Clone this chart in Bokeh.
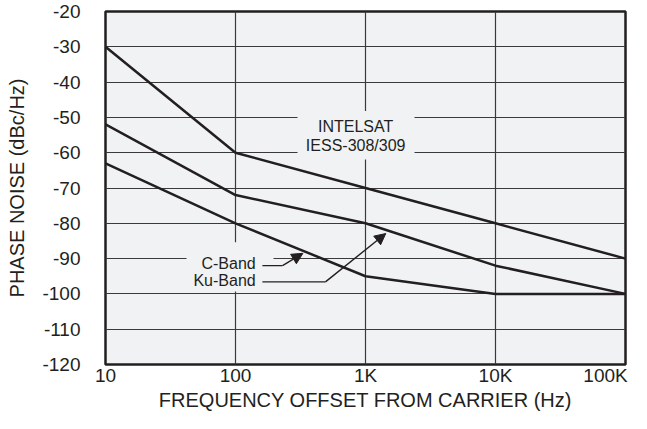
from bokeh.plotting import figure
from bokeh.models import Label, BoxAnnotation, Arrow, NormalHead, FixedTicker
from bokeh.embed import file_html
from bokeh.resources import INLINE

# ---- data ----
freq_hz = [10, 100, 1000, 10000, 100000]
intelsat = [-30, -60, -70, -80, -90]
ku_band = [-52, -72, -80, -92, -100]
c_band = [-63, -80, -95, -100, -100]

x_tick_values = [10, 100, 1000, 10000, 100000]
x_tick_labels = ["10", "100", "1K", "10K", "100K\u2009"]
y_tick_values = [-20, -30, -40, -50, -60, -70, -80, -90, -100, -110, -120]
y_tick_labels = ["-20", "-30", "-40", "-50", "-60", "-70", "-80", "-90", "-100", "-110", "-120"]

BG = "#f1f2f4"
INK = "#231f20"
GRID = "#3a3a3a"
FONT = "Liberation Sans"

p = figure(width=631, height=413, x_axis_type="log",
           x_range=(10, 100000), y_range=(-120, -20),
           output_backend="svg", toolbar_location=None,
           min_border_left=105, min_border_right=6,
           min_border_top=11, min_border_bottom=44,
           background_fill_color=BG, border_fill_color="white")

# grid
p.xgrid.ticker = FixedTicker(ticks=x_tick_values[1:-1])
p.ygrid.ticker = FixedTicker(ticks=y_tick_values[1:-1])
p.grid.grid_line_color = GRID
p.grid.grid_line_width = 1.2
p.xgrid.minor_grid_line_color = None
p.ygrid.minor_grid_line_color = None

# axes
p.xaxis.ticker = FixedTicker(ticks=x_tick_values)
p.yaxis.ticker = FixedTicker(ticks=y_tick_values)
p.xaxis.major_label_overrides = {v: l for v, l in zip(x_tick_values, x_tick_labels)}
p.yaxis.major_label_overrides = {v: l for v, l in zip(y_tick_values, y_tick_labels)}

p.axis.axis_line_color = None
p.axis.major_tick_line_color = None
p.axis.minor_tick_line_color = None
p.axis.major_tick_out = 0
p.axis.major_tick_in = 0
p.axis.major_label_text_font = FONT
p.axis.major_label_text_font_size = "19px"
p.axis.major_label_text_color = INK
p.axis.axis_label_text_font = FONT
p.axis.axis_label_text_font_size = "20px"
p.axis.axis_label_text_font_style = "normal"
p.axis.axis_label_text_color = INK
p.xaxis.axis_label = "FREQUENCY OFFSET FROM CARRIER (Hz)"
p.yaxis.axis_label = "PHASE NOISE (dBc/Hz)"
p.yaxis.major_label_standoff = 25
p.yaxis.axis_label_standoff = 11
p.xaxis.major_label_standoff = 0
p.xaxis.axis_label_standoff = 0

p.outline_line_color = INK
p.outline_line_width = 2.5
p.outline_line_alpha = 1

# masks behind the annotation texts (hide grid lines)
p.add_layout(BoxAnnotation(left=300, right=2382, top=-48.2, bottom=-61.9,
                           fill_color=BG, fill_alpha=1, line_color=None, level="underlay"))
p.add_layout(BoxAnnotation(left=42, right=196, top=-85.4, bottom=-99.3,
                           fill_color=BG, fill_alpha=1, line_color=None, level="underlay"))

# data lines
for series in (intelsat, ku_band, c_band):
    p.line(freq_hz, series, line_color=INK, line_width=2.5)

# annotation texts
for txt, xx, yy in (("INTELSAT", 840, -52.6), ("IESS-308/309", 840, -58.0)):
    p.add_layout(Label(x=xx, y=yy, text=txt, text_align="center", text_baseline="middle",
                       text_font=FONT, text_font_size="16px", text_color=INK))
for txt, xx, yy in (("C-Band", 143, -91.4), ("Ku-Band", 143, -96.2)):
    p.add_layout(Label(x=xx, y=yy, text=txt, text_align="right", text_baseline="middle",
                       text_font=FONT, text_font_size="16px", text_color=INK))

# leader lines and arrows
c_leader_x = [161, 230, 330]
c_leader_y = [-92.0, -92.0, -88.5]
ku_leader_x = [161, 492, 1432]
ku_leader_y = [-96.6, -96.6, -82.9]
for lx, ly in ((c_leader_x, c_leader_y), (ku_leader_x, ku_leader_y)):
    p.add_layout(Arrow(end=None, x_start=lx[0], y_start=ly[0], x_end=lx[1], y_end=ly[1],
                       line_color=INK, line_width=1.4))
    p.add_layout(Arrow(end=NormalHead(size=11, fill_color=INK, line_color=INK, line_width=1),
                       x_start=lx[1], y_start=ly[1], x_end=lx[2], y_end=ly[2],
                       line_color=INK, line_width=1.4))

open("out.html", "w").write(file_html(p, INLINE))
